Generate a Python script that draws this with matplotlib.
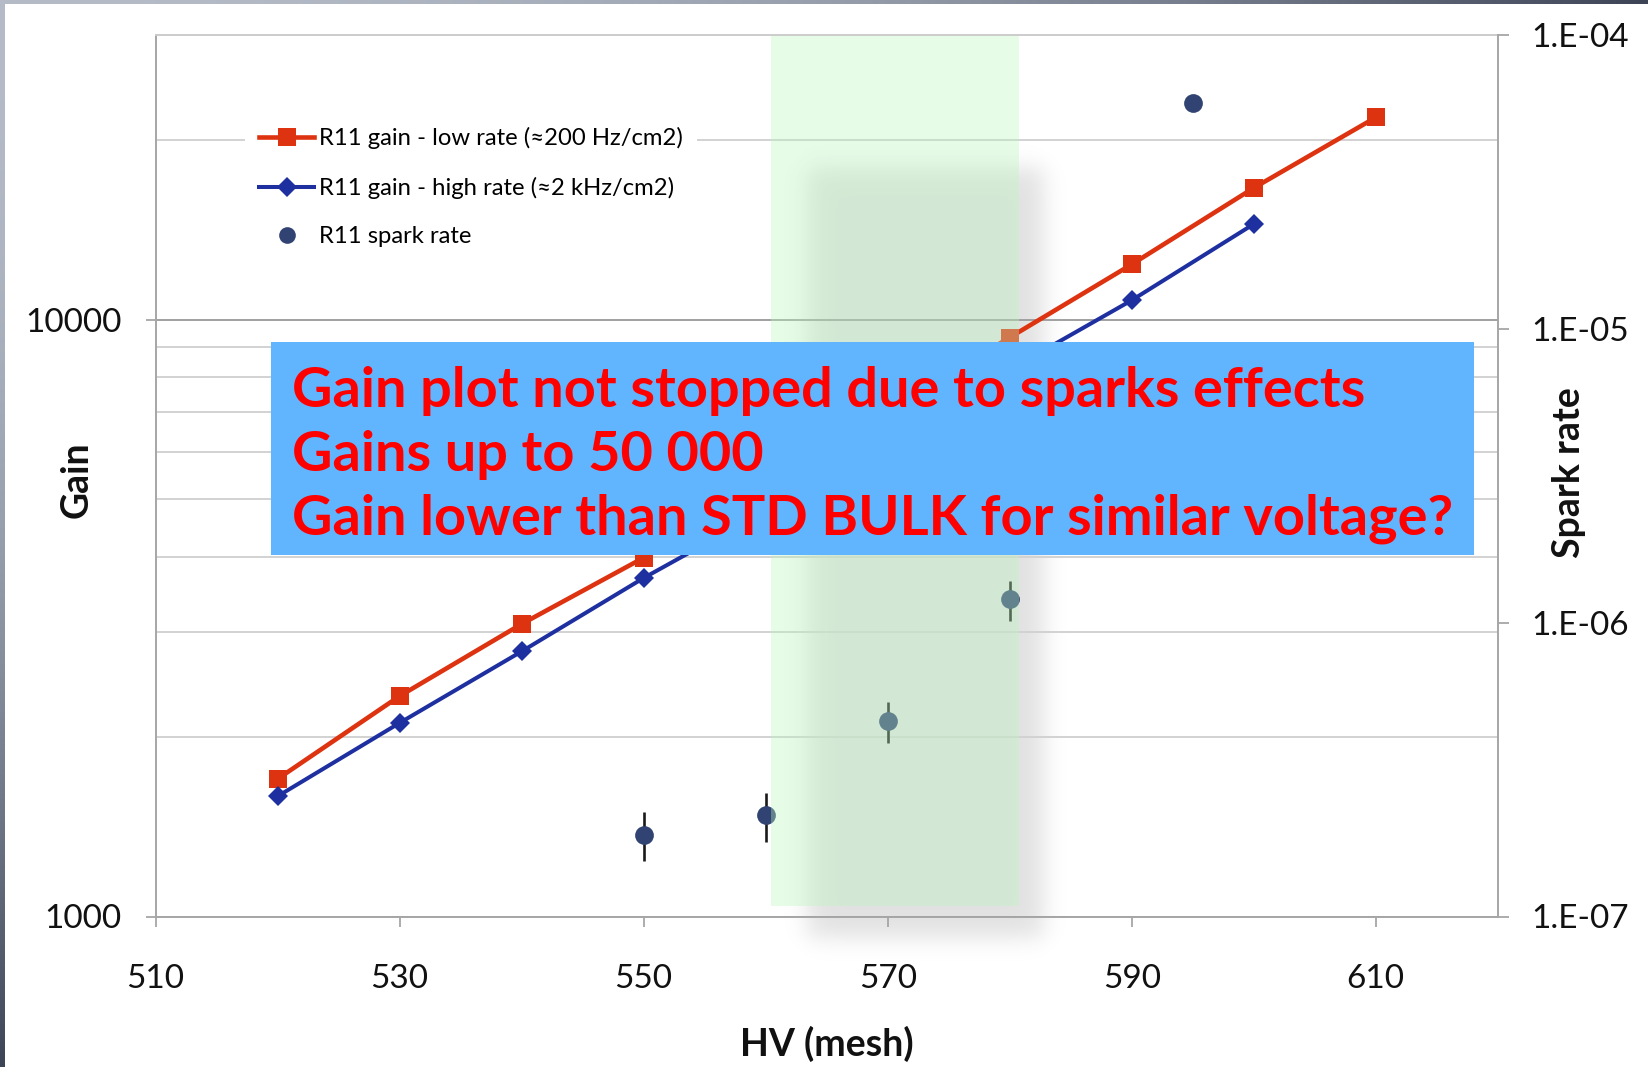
import numpy as np
import matplotlib
matplotlib.use("Agg")
import matplotlib.pyplot as plt
from matplotlib.lines import Line2D
from matplotlib.patches import Rectangle
from matplotlib.ticker import FixedLocator, FixedFormatter, LogLocator, NullFormatter

# ---- data -------------------------------------------------------------
hv_low = [520, 530, 540, 550, 560, 570, 580, 590, 600, 610]
gain_low = [1700, 2340, 3090, 3990, 5300, 7030, 9330, 12370, 16610, 21800]

hv_high = [520, 530, 540, 550, 560, 570, 580, 590, 600]
gain_high = [1590, 2110, 2780, 3690, 4790, 6280, 8240, 10770, 14450]

hv_spark = [550, 560, 570, 580, 595]
spark_rate = [1.90e-7, 2.21e-7, 4.63e-7, 1.20e-6, 5.87e-5]
spark_err = [0.36e-7, 0.42e-7, 0.75e-7, 1.85e-7, 0.0]

x_ticks = [510, 530, 550, 570, 590, 610]
gain_ticks = [1000, 10000]
gain_tick_labels = ["1000", "10000"]
spark_ticks = [1e-7, 1e-6, 1e-5, 1e-4]
spark_tick_labels = ["1.E-07", "1.E-06", "1.E-05", "1.E-04"]

legend_labels = [
    "R11 gain - low rate (\u2248200 Hz/cm2)",
    "R11 gain - high rate (\u22482 kHz/cm2)",
    "R11 spark rate",
]
note_lines = [
    "Gain plot not stopped due to sparks effects",
    "Gains up to 50 000",
    "Gain lower than STD BULK for similar voltage?",
]

# HV window highlighted in green
hv_window = (560.4, 580.75)

# ---- style ------------------------------------------------------------
plt.rcParams["font.family"] = ["Lato", "DejaVu Sans"]
RED = "#DD3311"
BLUE = "#1E2FA0"
NAVY = "#314372"
SPINE = "#A6A6A6"
TXT = "#111111"

W, H = 1648, 1067
fig = plt.figure(figsize=(W / 100, H / 100), dpi=100)

# ---- background: slide border gradient and soft shadow -----------------
bg = fig.add_axes([0, 0, 1, 1], zorder=-10)
bg.axis("off")

gx, gy = np.meshgrid(np.linspace(0, 1, 200), np.linspace(0, 1, 200))
t = np.clip(gx ** 2 + gy ** 2, 0, 1)[..., None]
light = np.array([181, 188, 200]) / 255
dark = np.array([60, 68, 86]) / 255
grad = light * (1 - t) + dark * t
bg.imshow(grad, extent=(0, W, H, 0), aspect="auto", interpolation="bilinear", zorder=0)
bg.add_patch(Rectangle((5, 4), W, H, facecolor="white", edgecolor="none", zorder=1))

sx, sy = np.meshgrid(np.arange(740, 1110), np.arange(100, 1000))
def edge(d, s=14.0):
    return 0.5 * (1 + np.tanh(d / s))
shadow_alpha = 0.12 * edge(sx - 807) * edge(1043 - sx) * edge(sy - 167) * edge(937 - sy)
shadow = np.zeros(sx.shape + (4,))
shadow[..., 3] = shadow_alpha
bg.imshow(shadow, extent=(740, 1110, 1000, 100), aspect="auto",
          interpolation="bilinear", zorder=2)
bg.set_xlim(0, W)
bg.set_ylim(H, 0)

# ---- main axes ----------------------------------------------------------
left, right, top, bottom = 155.6, 1497.7, 34.7, 916.5
ax = fig.add_axes([left / W, 1 - bottom / H, (right - left) / W, (bottom - top) / H])
ax.set_facecolor("none")
ax.set_yscale("log")
ax.set_xlim(510, 620)
ax.set_ylim(1000, 30000)

ax.yaxis.set_major_locator(FixedLocator(gain_ticks))
ax.yaxis.set_major_formatter(FixedFormatter(gain_tick_labels))
ax.yaxis.set_minor_locator(LogLocator(base=10, subs=np.arange(2, 10)))
ax.yaxis.set_minor_formatter(NullFormatter())
ax.set_xticks(x_ticks)
ax.set_xticklabels([str(v) for v in x_ticks])

ax.grid(True, which="major", axis="y", color="#A0A0A0", lw=1.4, zorder=0)
ax.grid(True, which="minor", axis="y", color="#D2D2D2", lw=1.4, zorder=0)
ax.set_axisbelow(True)

for side in ["left", "bottom"]:
    ax.spines[side].set_color(SPINE)
    ax.spines[side].set_linewidth(1.4)
ax.spines["top"].set_color("#CCCCCC")
ax.spines["top"].set_linewidth(1.4)
ax.spines["right"].set_visible(False)

ax.tick_params(axis="x", which="major", direction="out", length=7.2, width=1.3,
               color=SPINE, pad=27, labelsize=24, labelcolor=TXT)
ax.tick_params(axis="y", which="major", direction="out", length=7.2, width=1.3,
               color=SPINE, pad=17.5, labelsize=24, labelcolor=TXT)
ax.tick_params(axis="y", which="minor", length=0)

ax.plot(hv_low, gain_low, color=RED, lw=3.3, marker="s", ms=13, mew=0, zorder=3)
ax.plot(hv_high, gain_high, color=BLUE, lw=2.9, marker="D", ms=10.5, mew=0, zorder=3)

ax.set_xlabel("HV (mesh)", fontsize=27, fontweight="bold", color=TXT)
ax.xaxis.set_label_coords(0.5, (bottom - 1044) / (bottom - top))
ax.xaxis.label.set_va("center")
ax.set_ylabel("Gain", fontsize=27, fontweight="bold", color=TXT)
ax.yaxis.set_label_coords((77 - left) / (right - left), (bottom - 480) / (bottom - top))
ax.yaxis.label.set_va("center")
ax.yaxis.label.set_ha("center")

# ---- spark rate on secondary axis ------------------------------------
ax2 = ax.twinx()
ax2.set_yscale("log")
ax2.set_ylim(1e-7, 1e-4)
ax2.yaxis.set_major_locator(FixedLocator(spark_ticks))
ax2.yaxis.set_major_formatter(FixedFormatter(spark_tick_labels))
ax2.yaxis.set_minor_locator(FixedLocator([]))
ax2.spines["right"].set_color(SPINE)
ax2.spines["right"].set_linewidth(1.4)
for side in ["left", "top", "bottom"]:
    ax2.spines[side].set_visible(False)
ax2.tick_params(axis="y", which="major", direction="out", length=8, width=1.3,
                color=SPINE, pad=16.5, labelsize=24, labelcolor=TXT)

ax2.errorbar(hv_spark, spark_rate, yerr=spark_err, fmt="o", color=NAVY, ms=13.5,
             mew=0, ecolor="#1A1A1A", elinewidth=1.9, capsize=0, zorder=3)

ax2.set_ylabel("Spark rate", fontsize=27, fontweight="bold", color=TXT, rotation=90)
ax2.yaxis.set_label_coords((1569 - left) / (right - left), (bottom - 473) / (bottom - top))
ax2.yaxis.label.set_va("center")
ax2.yaxis.label.set_ha("center")

ax2.axvspan(hv_window[0], hv_window[1], ymin=0.012, ymax=0.998,
            facecolor="#BBF7BD", alpha=0.36, edgecolor="none", zorder=4)

handles = [
    Line2D([], [], color=RED, lw=3.3, marker="s", ms=12.5, mew=0),
    Line2D([], [], color=BLUE, lw=2.9, marker="D", ms=10, mew=0),
    Line2D([], [], color=NAVY, lw=0, marker="o", ms=12, mew=0),
]
leg = ax2.legend(handles, legend_labels, loc="upper left",
                 bbox_to_anchor=((245 - left) / (right - left), (bottom - 113) / (bottom - top)),
                 frameon=True, facecolor="white", edgecolor="none", framealpha=1,
                 fontsize=17.2, handlelength=2.29, handletextpad=0.2, labelspacing=1.15,
                 borderpad=0.6, borderaxespad=0, numpoints=1, fancybox=False)
leg.set_zorder(6)

# ---- note box -------------------------------------------------------
box_x0, box_x1, box_top, box_bottom = 271, 1473.5, 341.6, 555
fig.add_artist(Rectangle((box_x0 / W, 1 - box_bottom / H), (box_x1 - box_x0) / W,
                         (box_bottom - box_top) / H, transform=fig.transFigure,
                         facecolor="#61B4FE", edgecolor="none", zorder=10))
for i, line in enumerate(note_lines):
    fig.text(292 / W, 1 - (407 + 63.5 * i) / H, line, color="#FF0000", fontsize=40.2,
             fontweight="bold", ha="left", va="baseline", zorder=11)

fig.savefig("out.png", dpi=100)
